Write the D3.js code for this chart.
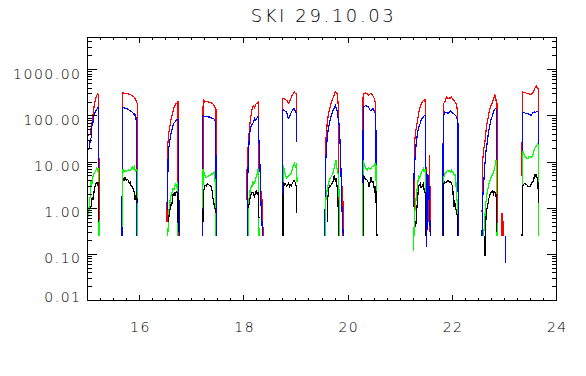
<!DOCTYPE html>
<html><head><meta charset="utf-8">
<script src="https://cdn.jsdelivr.net/npm/d3@7"></script>
<style>
body{margin:0;background:#fff}
svg{display:block}
text{font-family:"DejaVu Sans",sans-serif;font-weight:200;fill:#000}
</style>
</head><body><svg id="c" width="586" height="376"></svg>
<script>
const title = "SKI 29.10.03";
const xTickLabels = [16, 18, 20, 22, 24];
const yTickValues = [0.01, 0.1, 1, 10, 100, 1000];
const xDomain = [15, 24];
const yDomain = [0.01, 5000];

// [hour, value]; null = gap
const redSeries = [
[15.0,38],[15.05,40],[15.08,63],[15.10,95],[15.115,130],[15.13,170],[15.147,217],[15.165,250],[15.18,280],[15.20,300],[15.21,290],[15.218,250],[15.22,0.25],null,
[15.677,0.25],[15.678,317],[15.72,310],[15.75,305],[15.78,300],[15.816,290],[15.85,280],[15.88,265],[15.90,250],[15.912,237],[15.925,220],[15.945,200],[15.956,180],[15.957,0.25],null,
[16.525,0.5],[16.53,2.9],[16.531,20],[16.54,25],[16.55,30],[16.562,45],[16.58,60],[16.60,80],[16.614,95],[16.63,110],[16.644,130],[16.66,150],[16.677,165],[16.69,170],[16.70,185],[16.715,190],[16.729,200],[16.735,210],[16.74,0.25],null,
[17.216,6.6],[17.219,225],[17.23,220],[17.25,200],[17.283,205],[17.314,200],[17.346,198],[17.379,190],[17.40,185],[17.428,170],[17.442,160],[17.455,145],[17.465,140],[17.474,0.5],null,
[18.048,1.5],[18.06,6],[18.078,18],[18.09,30],[18.111,58],[18.13,90],[18.143,113],[18.16,145],[18.174,160],[18.19,170],[18.207,150],[18.22,170],[18.239,185],[18.255,190],[18.27,200],[18.283,205],[18.285,0.8],null,
[18.335,2.4],[18.34,0.5],[18.35,1.6],[18.36,0.8],[18.37,0.25],null,
[18.748,0.55],[18.749,237],[18.77,237],[18.80,225],[18.824,217],[18.843,200],[18.862,185],[18.875,200],[18.889,225],[18.91,250],[18.927,280],[18.945,300],[18.96,320],[18.971,330],[18.985,310],[19.004,305],[19.012,290],[19.015,27],null,
[19.56,0.6],[19.564,18],[19.575,30],[19.589,49],[19.60,70],[19.608,85],[19.627,112],[19.65,150],[19.673,185],[19.69,210],[19.717,255],[19.73,280],[19.755,330],[19.77,320],[19.788,305],[19.80,250],[19.807,200],[19.815,150],[19.818,0.4],null,
[19.89,3.0],[19.895,1.5],[19.90,2.5],[19.905,0.25],null,
[20.277,18],[20.29,305],[20.31,310],[20.342,313],[20.37,300],[20.392,280],[20.41,295],[20.438,305],[20.46,290],[20.482,265],[20.50,240],[20.52,200],[20.533,190],[20.535,11],null,
[21.269,0.47],[21.282,30],[21.296,45],[21.314,58],[21.333,80],[21.352,103],[21.365,130],[21.384,155],[21.40,180],[21.423,200],[21.442,215],[21.46,210],[21.474,225],[21.486,220],[21.49,20],[21.507,0.4],null,
[21.55,3.0],[21.555,0.5],[21.56,14],[21.565,5],[21.57,0.3],[21.575,3],[21.58,1.2],[21.59,0.25],null,
[21.82,0.25],[21.826,185],[21.84,190],[21.858,200],[21.872,230],[21.891,255],[21.91,245],[21.935,237],[21.95,250],[21.967,240],[21.987,255],[22.01,230],[22.031,217],[22.05,200],[22.075,185],[22.09,145],[22.10,150],[22.113,35],[22.114,0.25],null,
[22.572,0.83],[22.58,3],[22.585,11],[22.60,18],[22.623,25],[22.648,49],[22.667,70],[22.686,88],[22.70,110],[22.713,130],[22.732,160],[22.76,185],[22.776,200],[22.79,230],[22.815,280],[22.828,270],[22.839,217],[22.85,220],[22.858,180],[22.86,0.25],null,
[22.94,0.78],[22.945,0.25],[22.95,0.7],[22.96,0.3],[22.97,0.8],[22.975,0.25],null,
[23.337,5],[23.345,330],[23.37,320],[23.402,317],[23.43,310],[23.451,305],[23.475,300],[23.497,290],[23.52,300],[23.541,313],[23.56,330],[23.579,390],[23.60,420],[23.612,440],[23.63,400],[23.642,390],[23.655,380],[23.656,10],[23.66,1],null
];

const blueSeries = [
[15.0,18],[15.03,20],[15.05,28],[15.07,34],[15.085,60],[15.10,63],[15.115,95],[15.13,104],[15.147,120],[15.165,130],[15.18,140],[15.20,150],[15.21,150],[15.212,15],[15.214,0.5],null,
[15.664,0.25],[15.665,155],[15.69,150],[15.72,148],[15.75,145],[15.784,137],[15.816,130],[15.849,122],[15.87,118],[15.899,103],[15.91,110],[15.925,80],[15.935,95],[15.945,75],[15.946,0.25],null,
[16.537,0.9],[16.545,11],[16.56,20],[16.581,30],[16.60,40],[16.614,45],[16.63,55],[16.644,63],[16.66,70],[16.677,73],[16.69,78],[16.715,83],[16.735,85],[16.74,80],[16.745,3],[16.76,1],[16.767,0.25],null,
[17.207,0.25],[17.208,103],[17.23,100],[17.25,98],[17.283,98],[17.31,95],[17.346,95],[17.379,90],[17.409,88],[17.43,85],[17.442,80],[17.455,75],[17.461,40],[17.47,2],[17.48,0.25],null,
[18.075,0.25],[18.078,5.7],[18.098,25],[18.11,40],[18.124,49],[18.14,60],[18.174,70],[18.19,75],[18.207,88],[18.22,80],[18.239,85],[18.255,90],[18.27,95],[18.283,90],[18.289,30],[18.30,20],[18.31,8],[18.32,3],[18.33,1.2],[18.345,0.6],[18.359,0.25],null,
[18.747,0.25],[18.748,130],[18.77,135],[18.80,125],[18.824,122],[18.843,95],[18.862,88],[18.875,100],[18.889,103],[18.91,120],[18.927,130],[18.95,140],[18.971,145],[18.985,130],[19.004,113],[19.012,120],[19.015,27],null,
[19.558,0.25],[19.56,1.0],[19.564,6.6],[19.575,12],[19.589,21],[19.60,35],[19.627,58],[19.65,75],[19.673,95],[19.692,115],[19.717,137],[19.736,150],[19.755,170],[19.77,150],[19.788,130],[19.80,100],[19.818,80],[19.832,58],[19.845,30],[19.86,10],[19.875,2],[19.89,0.6],[19.908,0.25],null,
[20.285,0.25],[20.29,155],[20.31,160],[20.342,170],[20.37,160],[20.392,155],[20.42,135],[20.438,130],[20.46,140],[20.482,145],[20.50,130],[20.52,113],[20.533,110],[20.54,3],[20.55,0.25],null,
[21.25,1.07],[21.269,6.6],[21.296,18],[21.314,30],[21.333,41],[21.352,55],[21.384,68],[21.40,80],[21.423,88],[21.442,95],[21.46,100],[21.474,103],[21.486,100],[21.492,7.8],[21.50,3],[21.51,0.145],[21.515,0.5],[21.53,5.6],[21.54,4],[21.55,1.5],[21.56,3],[21.57,0.6],[21.58,0.25],null,
[21.818,0.25],[21.826,95],[21.84,105],[21.858,122],[21.872,120],[21.891,118],[21.922,113],[21.94,120],[21.967,130],[21.987,120],[22.01,113],[22.031,110],[22.063,103],[22.08,95],[22.098,80],[22.11,70],[22.113,0.25],null,
[22.57,0.25],[22.585,1.75],[22.60,3],[22.623,7.8],[22.64,15],[22.667,25],[22.69,40],[22.713,58],[22.74,80],[22.763,95],[22.78,110],[22.801,130],[22.828,145],[22.84,140],[22.847,130],[22.85,5],[22.855,0.25],null,
[23.015,0.25],[23.016,0.065],null,
[23.345,0.25],[23.35,115],[23.38,118],[23.402,115],[23.43,113],[23.451,113],[23.48,108],[23.516,103],[23.541,115],[23.56,120],[23.579,122],[23.60,120],[23.62,125],[23.642,122],[23.656,120],[23.662,0.25],null
];

const greenSeries = [
[15.0,0.64],[15.02,0.7],[15.04,1.5],[15.06,2.0],[15.07,4.0],[15.08,3.0],[15.10,4.7],[15.12,5.5],[15.14,6.0],[15.16,6.6],[15.18,7.4],[15.20,6.0],[15.215,7.4],[15.22,0.25],null,
[15.675,0.4],[15.677,7.2],[15.69,6.0],[15.72,6.6],[15.75,6.2],[15.78,6.8],[15.816,6.6],[15.84,7.0],[15.86,7.8],[15.88,7.0],[15.90,7.8],[15.92,6.5],[15.945,7.0],[15.955,6.0],[15.964,0.25],null,
[16.537,0.25],[16.549,0.39],[16.56,0.8],[16.581,1.5],[16.59,1.2],[16.60,1.8],[16.614,2.1],[16.63,2.3],[16.644,2.7],[16.66,2.5],[16.677,3.1],[16.69,3.3],[16.705,3.0],[16.721,3.4],[16.73,3.0],[16.735,0.25],null,
[17.21,1.0],[17.218,7.2],[17.235,6.0],[17.25,5.2],[17.27,4.6],[17.30,4.8],[17.33,5.0],[17.36,5.2],[17.38,5.6],[17.40,5.4],[17.428,6.1],[17.44,5.5],[17.455,2.7],[17.46,0.25],null,
[18.085,0.25],[18.09,1.0],[18.10,1.6],[18.111,2.45],[18.125,2.2],[18.143,3.1],[18.16,3.0],[18.174,3.7],[18.19,3.4],[18.207,3.6],[18.22,4.0],[18.239,4.8],[18.255,5.5],[18.27,7.2],[18.285,6.0],[18.29,0.25],null,
[18.75,0.25],[18.761,8.5],[18.78,6.5],[18.799,5.2],[18.82,4.5],[18.843,4.8],[18.86,5.0],[18.889,5.5],[18.91,5.8],[18.927,6.6],[18.945,8.0],[18.971,9.3],[18.99,8.0],[19.004,8.5],[19.015,9.5],[19.02,3.7],null,
[19.565,0.25],[19.569,1.25],[19.58,1.8],[19.608,2.9],[19.627,3.5],[19.641,4.0],[19.66,4.5],[19.692,5.2],[19.71,6.0],[19.736,7.8],[19.755,9.5],[19.769,11],[19.78,8.0],[19.80,6.0],[19.818,5.0],[19.83,1.5],[19.835,0.25],null,
[20.285,0.25],[20.291,11],[20.31,9],[20.329,7.8],[20.35,7.0],[20.373,6.6],[20.39,7.5],[20.419,7.2],[20.44,7.0],[20.46,7.8],[20.482,8.0],[20.50,8.5],[20.52,9.3],[20.535,8.5],[20.55,0.25],null,
[21.25,0.12],[21.255,0.4],[21.269,0.25],[21.28,0.8],[21.296,1.2],[21.314,2.1],[21.333,3.0],[21.352,4.8],[21.365,4.5],[21.384,5.0],[21.40,5.6],[21.423,6.6],[21.442,7.2],[21.46,6.0],[21.474,7.0],[21.486,5.5],[21.49,0.25],null,
[21.826,0.5],[21.839,4.8],[21.858,5.6],[21.88,6.0],[21.91,6.6],[21.935,6.2],[21.95,6.4],[21.967,6.0],[21.987,6.6],[22.01,6.0],[22.04,5.2],[22.063,5.4],[22.075,2.7],[22.09,1.5],[22.10,1.2],[22.105,0.25],null,
[22.60,0.25],[22.623,0.55],[22.64,1.2],[22.667,2.1],[22.69,2.8],[22.713,3.7],[22.74,4.5],[22.763,5.2],[22.78,5.5],[22.801,6.5],[22.815,7.8],[22.83,9.0],[22.839,11],[22.85,8],[22.858,0.25],null,
[23.345,0.25],[23.35,16.5],[23.363,16.5],[23.38,14],[23.402,13],[23.43,12],[23.451,11.9],[23.47,13],[23.497,13],[23.52,12.5],[23.541,14],[23.56,16],[23.579,19.6],[23.60,21],[23.623,23],[23.642,25],[23.655,24],[23.66,0.25],null
];

const blackSeries = [
[15.06,1.0],[15.08,1.3],[15.09,1.7],[15.11,1.5],[15.13,2.5],[15.15,3.2],[15.17,3.6],[15.19,3.6],[15.20,3.0],[15.215,3.6],[15.218,0.5],null,
[15.68,4.4],[15.70,4.0],[15.72,4.6],[15.75,4.0],[15.772,4.2],[15.80,3.5],[15.816,3.7],[15.84,3.0],[15.86,2.9],[15.88,2.5],[15.899,2.25],[15.91,1.5],[15.925,1.75],[15.94,2.2],[15.956,1.3],null,
[16.549,0.5],[16.562,0.65],[16.58,0.9],[16.60,1.25],[16.614,1.1],[16.63,1.6],[16.644,2.1],[16.66,1.9],[16.677,2.2],[16.69,2.0],[16.705,2.3],[16.721,2.2],[16.735,1.8],[16.74,0.3],null,
[17.218,0.5],[17.22,2.1],[17.235,2.5],[17.25,3.1],[17.283,3.0],[17.302,3.4],[17.33,3.2],[17.36,3.0],[17.379,2.9],[17.40,2.0],[17.409,1.6],[17.43,1.2],[17.442,1.07],[17.46,0.8],null,
[18.09,1.0],[18.111,1.5],[18.125,1.8],[18.143,2.1],[18.16,2.2],[18.174,2.2],[18.19,1.9],[18.207,1.75],[18.22,2.2],[18.239,2.3],[18.255,2.0],[18.27,2.2],[18.283,1.8],[18.29,0.6],null,
[18.75,0.25],[18.751,1.5],[18.761,3.7],[18.78,3.2],[18.799,3.4],[18.82,3.0],[18.843,3.1],[18.86,3.7],[18.875,2.8],[18.889,3.3],[18.91,3.0],[18.927,3.4],[18.95,3.8],[18.971,4.0],[18.99,3.5],[19.004,3.0],[19.015,0.77],null,
[19.6,0.5],[19.608,1.5],[19.627,2.5],[19.641,3.1],[19.66,3.0],[19.692,3.4],[19.717,4.0],[19.736,5.2],[19.755,4.0],[19.77,4.5],[19.788,3.0],[19.80,2.5],[19.818,0.47],[19.82,0.25],null,
[20.29,0.25],[20.291,5.2],[20.31,4.8],[20.329,4.4],[20.35,4.2],[20.373,4.0],[20.39,3.5],[20.405,2.9],[20.42,3.5],[20.438,4.8],[20.46,3.7],[20.482,3.7],[20.50,2.8],[20.52,2.1],[20.533,3.0],[20.54,1.0],[20.555,0.25],null,
[21.30,0.4],[21.314,0.8],[21.333,1.5],[21.352,2.9],[21.365,3.2],[21.384,3.4],[21.40,2.8],[21.423,3.0],[21.442,3.4],[21.46,2.5],[21.474,2.25],[21.486,2.0],[21.49,0.25],null,
[21.826,0.25],[21.83,0.4],[21.839,3.4],[21.858,3.7],[21.88,3.6],[21.922,4.0],[21.95,3.7],[21.967,3.8],[21.998,3.1],[22.01,2.5],[22.031,1.07],[22.04,1.5],[22.05,1.3],[22.075,0.9],[22.098,0.65],[22.10,0.25],null,
[22.62,0.25],[22.623,0.145],[22.63,0.09],[22.637,0.3],[22.648,0.65],[22.667,1.0],[22.686,1.25],[22.70,1.6],[22.732,2.1],[22.75,2.3],[22.776,2.45],[22.79,2.0],[22.815,2.3],[22.839,1.75],[22.85,2.0],[22.855,0.3],null,
[23.34,0.25],[23.345,3.1],[23.363,3.1],[23.38,3.4],[23.402,3.4],[23.43,3.2],[23.451,3.0],[23.47,2.9],[23.497,2.9],[23.52,3.5],[23.541,3.7],[23.56,4.0],[23.579,5.2],[23.60,5.0],[23.612,5.6],[23.63,4.5],[23.642,4.0],[23.656,1.3],null
];

const seriesList = [
  {data: redSeries, color: "#ff0000"},
  {data: blueSeries, color: "#0000ff"},
  {data: greenSeries, color: "#00ff00"},
  {data: blackSeries, color: "#000000"}
];

const L = 87.5, R = 556.5, T = 37.5, B = 300.5;
const svg = d3.select("#c");
const x = d3.scaleLinear().domain(xDomain).range([L, R]);
const y = d3.scaleLog().domain(yDomain).range([B, T]);
const snap = v => Math.round(v - 0.5) + 0.5;

const g = svg.append("g").attr("shape-rendering", "crispEdges");

// data lines
const line = d3.line().defined(d => d !== null).x(d => x(d[0])).y(d => y(d[1]));
seriesList.forEach(s => {
  g.append("path").attr("d", line(s.data)).attr("fill", "none")
   .attr("stroke", s.color).attr("stroke-width", 1.2);
});

// frame
g.append("rect").attr("x", L).attr("y", T).attr("width", R - L).attr("height", B - T)
 .attr("fill", "none").attr("stroke", "#000");

// x ticks
const xMajor = d3.range(16, 24.001, 2);
const xMinor = d3.range(15.25, 24, 0.25).filter(v => Math.abs(v - Math.round(v / 2) * 2) > 1e-6);
const xMajLen = 5.5, xMinLen = 2.5;
xMajor.forEach(v => {
  const px = snap(x(v));
  g.append("line").attr("x1", px).attr("x2", px).attr("y1", B).attr("y2", B - xMajLen).attr("stroke", "#000");
  g.append("line").attr("x1", px).attr("x2", px).attr("y1", T).attr("y2", T + xMajLen).attr("stroke", "#000");
});
xMinor.forEach(v => {
  const px = snap(x(v));
  g.append("line").attr("x1", px).attr("x2", px).attr("y1", B).attr("y2", B - xMinLen).attr("stroke", "#000");
  g.append("line").attr("x1", px).attr("x2", px).attr("y1", T).attr("y2", T + xMinLen).attr("stroke", "#000");
});
svg.selectAll(".xl").data(xTickLabels).enter().append("text")
  .attr("x", d => x(d) + 0.8).attr("y", 332).attr("text-anchor", "middle")
  .attr("font-size", 14).attr("letter-spacing", 1.5).text(d => String(d));

// y ticks
const yMajLen = 9.5, yMinLen = 4.7;
const yMinorVals = [];
[0.01, 0.1, 1, 10, 100, 1000].forEach(dec => {
  for (let k = 2; k <= 9; k++) { const v = dec * k; if (v <= yDomain[1]) yMinorVals.push(v); }
});
yTickValues.forEach(v => {
  const py = snap(y(v));
  g.append("line").attr("x1", L).attr("x2", L + yMajLen).attr("y1", py).attr("y2", py).attr("stroke", "#000");
  g.append("line").attr("x1", R).attr("x2", R - yMajLen).attr("y1", py).attr("y2", py).attr("stroke", "#000");
});
yMinorVals.forEach(v => {
  const py = snap(y(v));
  g.append("line").attr("x1", L).attr("x2", L + yMinLen).attr("y1", py).attr("y2", py).attr("stroke", "#000");
  g.append("line").attr("x1", R).attr("x2", R - yMinLen).attr("y1", py).attr("y2", py).attr("stroke", "#000");
});
const fmt = d3.format(".2f");
svg.selectAll(".yl").data(yTickValues).enter().append("text")
  .attr("x", 81.5).attr("y", d => Math.min(y(d) + 9, 301.5)).attr("text-anchor", "end")
  .attr("font-size", 14).attr("letter-spacing", 1.5).text(d => fmt(d));

// title
svg.append("text").attr("x", (L + R) / 2 + 1.5).attr("y", 22).attr("text-anchor", "middle")
  .attr("font-size", 18).attr("letter-spacing", 2.6).text(title);
</script>
</body></html>
